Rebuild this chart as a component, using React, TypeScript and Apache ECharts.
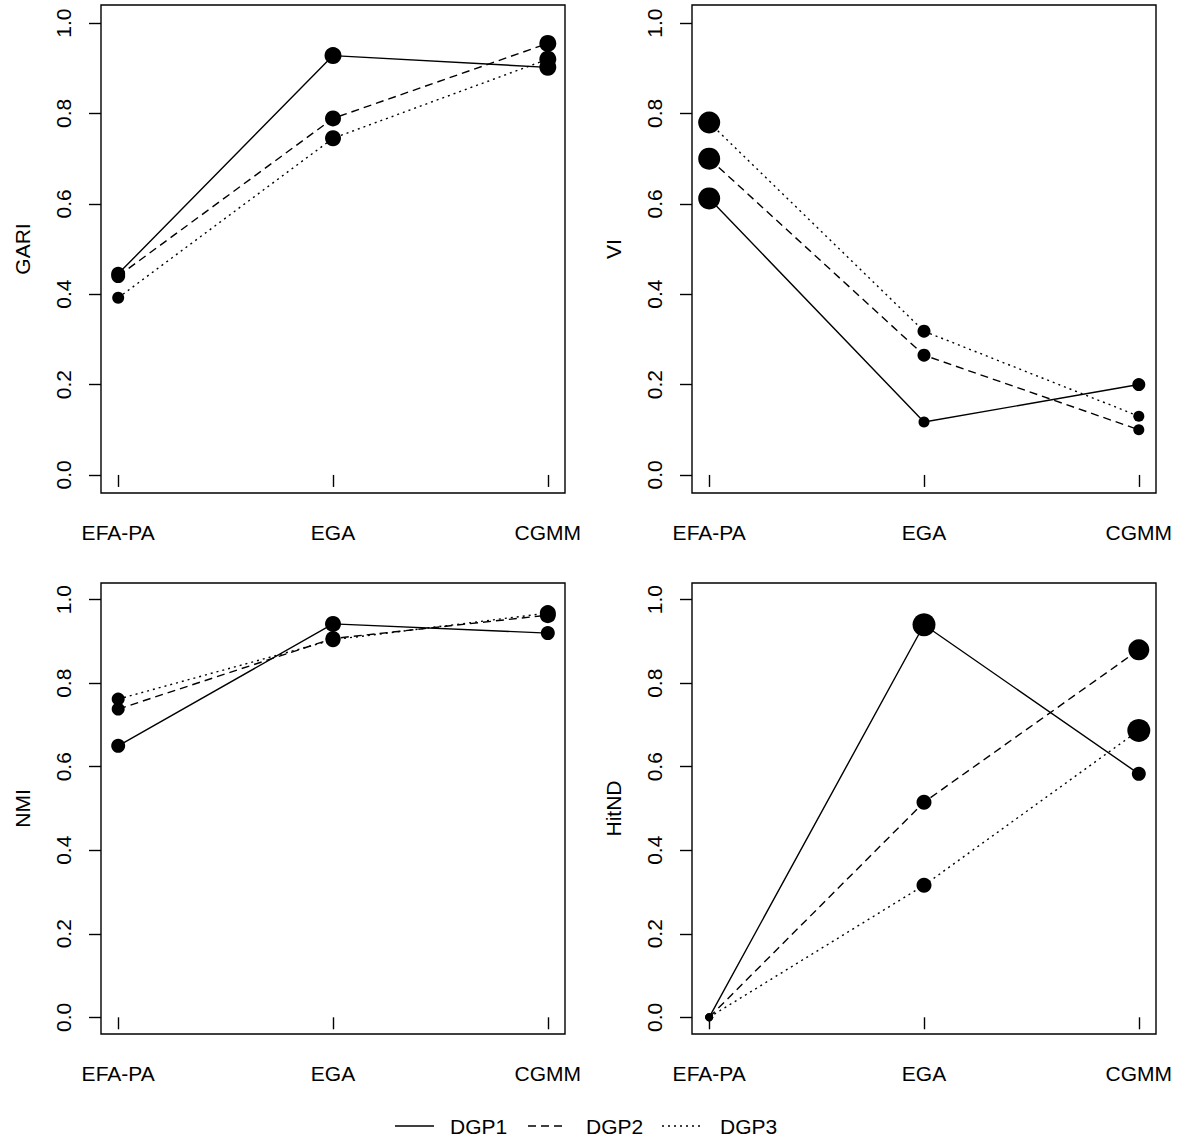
import React, { useEffect, useRef } from "react";
import * as echarts from "echarts";

const categories = ["EFA-PA", "EGA", "CGMM"];
const metricNames = ["GARI", "VI", "NMI", "HitND"];
const dgpNames = ["DGP1", "DGP2", "DGP3"];
const xTicks = [1, 2, 3];
const yTicks = [0, 0.2, 0.4, 0.6, 0.8, 1.0];

// values per metric and DGP (EFA-PA, EGA, CGMM)
const gariDGP1 = [0.445, 0.928, 0.902];
const gariDGP2 = [0.44, 0.789, 0.955];
const gariDGP3 = [0.392, 0.745, 0.92];
const viDGP1 = [0.612, 0.117, 0.2];
const viDGP2 = [0.7, 0.265, 0.1];
const viDGP3 = [0.78, 0.318, 0.13];
const nmiDGP1 = [0.65, 0.942, 0.92];
const nmiDGP2 = [0.738, 0.907, 0.963];
const nmiDGP3 = [0.762, 0.904, 0.968];
const hitDGP1 = [0.0, 0.94, 0.583];
const hitDGP2 = [0.0, 0.515, 0.88];
const hitDGP3 = [0.0, 0.316, 0.687];

// marker diameters
const gariSize1 = [14, 17, 17];
const gariSize2 = [14, 16, 17];
const gariSize3 = [12, 16, 17];
const viSize1 = [22, 11, 13];
const viSize2 = [22, 13, 11];
const viSize3 = [22, 13, 11];
const nmiSize1 = [14, 16, 14];
const nmiSize2 = [13, 15, 16];
const nmiSize3 = [13, 15, 16];
const hitSize1 = [8, 23, 14];
const hitSize2 = [8, 15, 21];
const hitSize3 = [8, 15, 23];

const panelValues = [
  [gariDGP1, gariDGP2, gariDGP3],
  [viDGP1, viDGP2, viDGP3],
  [nmiDGP1, nmiDGP2, nmiDGP3],
  [hitDGP1, hitDGP2, hitDGP3],
];
const panelSizes = [
  [gariSize1, gariSize2, gariSize3],
  [viSize1, viSize2, viSize3],
  [nmiSize1, nmiSize2, nmiSize3],
  [hitSize1, hitSize2, hitSize3],
];

const FONT = "'Liberation Sans', Arial, Helvetica, sans-serif";
const FS = 21;
const LW = 1.4;
const dashStyles: any[] = ["solid", [8, 5], [2, 4]];

const grids = [
  { left: 101, top: 5, width: 464, height: 488 },
  { left: 692, top: 5, width: 464, height: 488 },
  { left: 101, top: 583, width: 464, height: 451 },
  { left: 692, top: 583, width: 464, height: 451 },
];

export default function App() {
  const ref = useRef<HTMLDivElement>(null);
  useEffect(() => {
    if (!ref.current) return;
    const chart = echarts.init(ref.current, undefined, { renderer: "svg" });

    const grid = grids.map((g) => ({
      ...g,
      show: true,
      borderColor: "#000",
      borderWidth: LW,
      backgroundColor: "transparent",
      containLabel: false,
    }));

    const xAxis = grids.map((_, i) => ({
      type: "value",
      gridIndex: i,
      min: 0.92,
      max: 3.08,
      axisLine: { show: false },
      splitLine: { show: false },
      axisTick: {
        show: true,
        length: 12,
        customValues: xTicks,
        lineStyle: { color: "#000", width: LW },
      },
      axisLabel: {
        customValues: xTicks,
        formatter: (v: number) => categories[Math.round(v) - 1] ?? "",
        fontSize: FS,
        fontFamily: FONT,
        color: "#000",
        margin: 29,
      },
    }));

    const yAxis = grids.map((_, i) => ({
      type: "value",
      gridIndex: i,
      min: -0.04,
      max: 1.04,
      name: metricNames[i],
      nameLocation: "middle",
      nameRotate: 90,
      nameGap: 68,
      nameTextStyle: { fontSize: FS, fontFamily: FONT, color: "#000" },
      axisLine: { show: false },
      splitLine: { show: false },
      axisTick: {
        show: true,
        length: 12,
        customValues: yTicks,
        lineStyle: { color: "#000", width: LW },
      },
      axisLabel: {
        customValues: yTicks,
        formatter: (v: number) => v.toFixed(1),
        rotate: 90,
        fontSize: FS,
        fontFamily: FONT,
        color: "#000",
        margin: 27,
      },
    }));

    const series: any[] = [];
    panelValues.forEach((dgps, p) => {
      dgps.forEach((vals, d) => {
        series.push({
          type: "line",
          name: dgpNames[d],
          xAxisIndex: p,
          yAxisIndex: p,
          symbol: "circle",
          showAllSymbol: true,
          data: vals.map((v, k) => ({
            value: [xTicks[k], v],
            symbolSize: panelSizes[p][d][k],
          })),
          lineStyle: { color: "#000", width: LW, type: dashStyles[d] },
          itemStyle: { color: "#000", borderWidth: 0 },
          emphasis: { disabled: true },
          z: 2,
        });
      });
    });

    // legend drawn with graphic elements
    const legendY = 1126;
    const legendItems = [
      { x1: 395, x2: 434, tx: 450 },
      { x1: 528, x2: 567, tx: 586 },
      { x1: 662, x2: 701, tx: 720 },
    ];
    const graphic: any[] = [];
    legendItems.forEach((it, d) => {
      graphic.push({
        type: "line",
        shape: { x1: it.x1, y1: legendY, x2: it.x2, y2: legendY },
        style: {
          stroke: "#000",
          lineWidth: LW,
          lineDash: d === 0 ? null : dashStyles[d],
        },
      });
      graphic.push({
        type: "text",
        x: it.tx,
        y: legendY,
        style: {
          text: dgpNames[d],
          font: `${FS}px ${FONT}`,
          fill: "#000",
          verticalAlign: "middle",
          align: "left",
        },
      });
    });

    chart.setOption({
      animation: false,
      backgroundColor: "#fff",
      grid,
      xAxis,
      yAxis,
      series,
      graphic,
    });
    return () => chart.dispose();
  }, []);

  return (
    <div
      ref={ref}
      style={{ position: "absolute", left: 0, top: 0, width: 1181, height: 1144 }}
    />
  );
}
